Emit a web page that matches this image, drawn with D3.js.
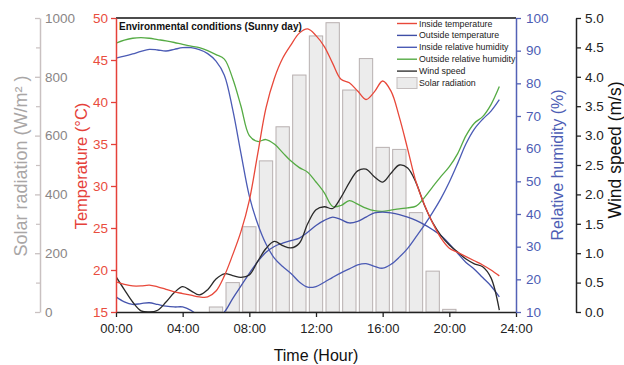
<!DOCTYPE html>
<html>
<head>
<meta charset="utf-8">
<script src="https://cdn.jsdelivr.net/npm/d3@7"></script>
<style>
  body { margin: 0; background: #fff; }
  svg { display: block; font-family: "Liberation Sans", Arial, sans-serif; }
</style>
</head>
<body>
<svg id="chart" width="624" height="365"></svg>
<script>
// time of day (hours), half-hour steps
const hours = d3.range(0, 23.01, 0.5);

const insideTemp = [18.6, 18.3, 18.1, 18.1, 18.2, 18.0, 17.7, 17.4, 17.2, 17.0, 16.8, 16.8, 17.5, 19.3,
  21.8, 24.6, 28.3, 33.8, 39.3, 42.8, 45.2, 46.8, 48.2, 48.7, 47.9, 46.6, 44.6, 42.7, 42.3, 41.3,
  40.3, 41.2, 42.5, 41.3, 38.2, 34.4, 30.5, 27.8, 25.6, 23.8, 22.6, 22.1, 21.6, 21.1, 20.6, 20.0, 19.3];

const outsideTemp = [16.8, 16.2, 15.9, 16.0, 16.1, 15.9, 15.7, 15.6, 15.6, 15.2, 14.5, 14.2, 14.3, 15.0,
  16.6, 18.1, 19.6, 21.0, 22.1, 22.8, 23.2, 23.5, 23.8, 24.5, 25.3, 25.9, 26.3, 26.0, 25.6, 25.8,
  26.3, 26.8, 26.9, 26.8, 26.6, 26.3, 25.9, 25.4, 24.8, 24.1, 23.1, 22.0, 20.9, 20.1, 19.1, 18.1, 16.8];

const insideRH = [87.7, 88.3, 89.0, 89.8, 90.4, 90.2, 89.9, 90.4, 90.9, 90.9, 90.3, 89.1, 86.8, 82.5,
  72.0, 58.5, 45.5, 37.0, 30.8, 26.5, 23.9, 21.8, 19.2, 17.6, 17.8, 19.1, 20.6, 22.0, 23.2, 24.4,
  24.8, 24.0, 23.4, 24.6, 26.8, 29.5, 33.0, 36.6, 40.5, 44.8, 49.8, 55.5, 61.5, 66.0, 69.0, 71.5, 75.0];

const outsideRH = [92.3, 93.2, 93.8, 94.0, 93.8, 93.4, 93.0, 92.5, 91.9, 91.4, 90.9, 90.0, 88.8, 87.4,
  81.5, 73.0, 64.0, 62.2, 62.8, 61.4, 58.8, 56.2, 54.2, 52.8, 49.8, 46.5, 42.3, 42.6, 44.1, 43.0,
  41.8, 41.0, 40.8, 41.2, 41.6, 41.9, 42.4, 45.0, 48.3, 51.5, 54.5, 58.5, 64.0, 67.8, 69.8, 73.5, 79.0];

const windSpeed = [0.60, 0.38, 0.17, 0.02, 0.0, 0.03, 0.17, 0.33, 0.43, 0.36, 0.29, 0.38, 0.56, 0.65,
  0.62, 0.59, 0.63, 0.86, 1.08, 1.20, 1.13, 1.09, 1.17, 1.50, 1.74, 1.79, 1.76, 1.95, 2.20, 2.40,
  2.43, 2.30, 2.21, 2.36, 2.50, 2.45, 2.20, 1.82, 1.52, 1.30, 1.14, 1.02, 0.90, 0.82, 0.77, 0.58, 0.03];

// hourly solar radiation bars
const solarHours = [6, 7, 8, 9, 10, 11, 12, 13, 14, 15, 16, 17, 18, 19, 20];
const solarRad = [17, 100, 290, 514, 630, 806, 939, 984, 755, 862, 560, 553, 338, 139, 9];

const timeTicks = [0, 4, 8, 12, 16, 20, 24];
const tempTicks = [15, 20, 25, 30, 35, 40, 45, 50];
const rhTicks = [10, 20, 30, 40, 50, 60, 70, 80, 90, 100];
const windTicks = [0, 0.5, 1, 1.5, 2, 2.5, 3, 3.5, 4, 4.5, 5];
const solarTicks = [0, 200, 400, 600, 800, 1000];
const solarMinor = [100, 300, 500, 700, 900];

const legendItems = [
  { name: "Inside temperature", color: "#e8483a", type: "line" },
  { name: "Outside temperature", color: "#3f4ea6", type: "line" },
  { name: "Inside relative humidity", color: "#4b5bb5", type: "line" },
  { name: "Outside relative humidity", color: "#55ab44", type: "line" },
  { name: "Wind speed", color: "#333", type: "line" },
  { name: "Solar radiation", color: "#ebebeb", type: "box" }
];

const svg = d3.select("#chart");
const plotL = 116, plotR = 516, plotT = 18, plotB = 312;

const x = d3.scaleLinear().domain([0, 24]).range([plotL, plotR]);
const yT = d3.scaleLinear().domain([15, 50]).range([plotB, plotT]);
const yRH = d3.scaleLinear().domain([10, 100]).range([plotB, plotT]);
const yW = d3.scaleLinear().domain([0, 5]).range([plotB, plotT]);
const yS = d3.scaleLinear().domain([0, 1000]).range([plotB, plotT]);

svg.append("rect").attr("width", 624).attr("height", 365).attr("fill", "#fff");

svg.append("clipPath").attr("id", "plotClip")
  .append("rect")
  .attr("x", plotL).attr("y", plotT)
  .attr("width", plotR - plotL).attr("height", plotB - plotT);

// bars for solar radiation
const barW = x(0.8) - x(0);
svg.append("g").selectAll("rect")
  .data(solarHours)
  .join("rect")
  .attr("x", (d) => x(d) - barW / 2)
  .attr("y", (d, i) => yS(solarRad[i]))
  .attr("width", barW)
  .attr("height", (d, i) => plotB - yS(solarRad[i]))
  .attr("fill", "#ececec")
  .attr("stroke", "#b8b0b0")
  .attr("stroke-width", 1);

// curves
const lineLayer = svg.append("g").attr("clip-path", "url(#plotClip)");
const series = [
  { values: outsideRH, y: yRH, color: "#55ab44" },
  { values: insideRH, y: yRH, color: "#4b5bb5" },
  { values: outsideTemp, y: yT, color: "#4554ad" },
  { values: windSpeed, y: yW, color: "#2a2a2a" },
  { values: insideTemp, y: yT, color: "#e8483a" }
];
series.forEach((s) => {
  const line = d3.line()
    .x((d, i) => x(hours[i]))
    .y((d) => s.y(d))
    .curve(d3.curveCatmullRom);
  lineLayer.append("path")
    .datum(s.values)
    .attr("d", line)
    .attr("fill", "none")
    .attr("stroke", s.color)
    .attr("stroke-width", 1.3);
});

// top frame line
svg.append("line")
  .attr("x1", plotL).attr("x2", plotR)
  .attr("y1", plotT).attr("y2", plotT)
  .attr("stroke", "#111").attr("stroke-width", 1.6);

// helper to style an axis
function styleAxis(g, color, labelColor, size) {
  g.select(".domain").attr("stroke", color).attr("stroke-width", 1.5);
  g.selectAll(".tick line").attr("stroke", color).attr("stroke-width", 1.3);
  g.selectAll(".tick text").attr("fill", labelColor).style("font-size", size + "px");
}

// bottom time axis
const xAxis = svg.append("g")
  .attr("transform", `translate(0,${plotB})`)
  .call(d3.axisBottom(x).tickValues(timeTicks).tickSize(5).tickPadding(7).tickSizeOuter(0)
    .tickFormat((d) => d3.format("02")(d) + ":00"));
styleAxis(xAxis, "#222", "#222", 13);

// temperature axis
const tAxis = svg.append("g")
  .attr("transform", `translate(${plotL},0)`)
  .call(d3.axisLeft(yT).tickValues(tempTicks).tickSize(5).tickPadding(3).tickSizeOuter(0));
styleAxis(tAxis, "#e5413a", "#e94d3e", 13.5);

// relative humidity axis
const rhAxis = svg.append("g")
  .attr("transform", `translate(${plotR},0)`)
  .call(d3.axisRight(yRH).tickValues(rhTicks).tickSize(5).tickPadding(5).tickSizeOuter(0));
styleAxis(rhAxis, "#5362b6", "#4d5db4", 13.5);

// wind speed axis
const wAxis = svg.append("g")
  .attr("transform", "translate(576,0)")
  .call(d3.axisRight(yW).tickValues(windTicks).tickSize(5).tickPadding(4).tickSizeOuter(0)
    .tickFormat(d3.format(".1f")));
styleAxis(wAxis, "#222", "#222", 13.5);

// solar radiation axis (ticks point left, labels on the right)
const sAxis = svg.append("g")
  .attr("transform", "translate(40,0)")
  .call(d3.axisRight(yS).tickValues(solarTicks).tickSize(-5).tickPadding(5).tickSizeOuter(0)
    .tickFormat(d3.format("d")));
styleAxis(sAxis, "#c9c1c1", "#8a8686", 13.5);
const sMinor = svg.append("g")
  .attr("transform", "translate(40,0)")
  .call(d3.axisRight(yS).tickValues(solarMinor).tickSize(-4).tickFormat("").tickSizeOuter(0));
sMinor.select(".domain").remove();
sMinor.selectAll(".tick line").attr("stroke", "#c9c1c1").attr("stroke-width", 1.2);

// axis titles
svg.append("text")
  .attr("transform", "translate(27,166) rotate(-90)")
  .attr("text-anchor", "middle")
  .attr("fill", "#a9a6a6")
  .style("font-size", "18px")
  .text("Solar radiation (W/m² )");

svg.append("text")
  .attr("transform", "translate(87,166) rotate(-90)")
  .attr("text-anchor", "middle")
  .attr("fill", "#e5413a")
  .style("font-size", "16.5px")
  .text("Temperature (°C)");

svg.append("text")
  .attr("transform", "translate(563,165) rotate(-90)")
  .attr("text-anchor", "middle")
  .attr("fill", "#4d5db4")
  .style("font-size", "16px")
  .text("Relative humidity (%)");

svg.append("text")
  .attr("transform", "translate(621,150) rotate(-90)")
  .attr("text-anchor", "middle")
  .attr("fill", "#111")
  .style("font-size", "17.5px")
  .text("Wind speed (m/s)");

svg.append("text")
  .attr("x", (plotL + plotR) / 2).attr("y", 361)
  .attr("text-anchor", "middle")
  .attr("fill", "#111")
  .style("font-size", "16px")
  .text("Time (Hour)");

// chart title inside plot
svg.append("text")
  .attr("x", 119).attr("y", 29.5)
  .attr("fill", "#111")
  .style("font-size", "10px")
  .style("font-weight", "bold")
  .text("Environmental conditions (Sunny day)");

// legend
const legend = svg.append("g").attr("transform", "translate(397,23.5)");
legendItems.forEach((item, i) => {
  const row = legend.append("g").attr("transform", `translate(0,${i * 11.9})`);
  if (item.type === "line") {
    row.append("line")
      .attr("x1", 0).attr("x2", 20)
      .attr("stroke", item.color).attr("stroke-width", 1.4);
  } else {
    row.append("rect")
      .attr("x", 0).attr("y", -5.5)
      .attr("width", 20).attr("height", 11)
      .attr("fill", item.color).attr("stroke", "#c4bebe");
  }
  row.append("text")
    .attr("x", 22).attr("y", 3)
    .attr("fill", "#222")
    .style("font-size", "8.8px")
    .text(item.name);
});
</script>
</body>
</html>
